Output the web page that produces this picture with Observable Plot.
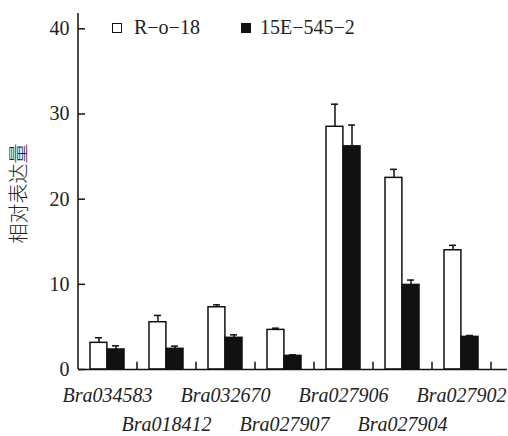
<!DOCTYPE html>
<html>
<head>
<meta charset="utf-8">
<script src="https://cdn.jsdelivr.net/npm/d3@7"></script>
<script src="https://cdn.jsdelivr.net/npm/@observablehq/plot@0.6"></script>
<style>
  html, body { margin: 0; padding: 0; background: #fff; }
  #wrap { position: relative; width: 508px; height: 436px; }
  .legend { position: absolute; top: 16px; font-family: "Liberation Serif", "Times New Roman", serif; font-size: 20px; color: #222; display: flex; align-items: center; white-space: nowrap; }
  .sw { display: inline-block; width: 8px; height: 8px; border: 1.3px solid #111; margin-right: 12px; }
</style>
</head>
<body>
<div id="wrap"></div>
<script>
const genes = ["Bra034583", "Bra018412", "Bra032670", "Bra027907", "Bra027906", "Bra027904", "Bra027902"];
const seriesNames = ["R\u2212o\u221218", "15E\u2212545\u22122"];
const r018 = [3.13, 5.55, 7.31, 4.65, 28.5, 22.5, 14.0];
const r018Err = [0.6, 0.8, 0.28, 0.2, 2.65, 1.0, 0.58];
const e545 = [2.35, 2.43, 3.72, 1.6, 26.2, 9.93, 3.83];
const e545Err = [0.43, 0.31, 0.35, 0.12, 2.5, 0.57, 0.16];
const yTicks = [0, 10, 20, 30, 40];
const yLabel = "相对表达量";

const white = genes.map((g, i) => ({gene: g, value: r018[i], err: r018Err[i]}));
const black = genes.map((g, i) => ({gene: g, value: e545[i], err: e545Err[i]}));
const row1 = genes.filter((g, i) => i % 2 === 0);
const row2 = genes.filter((g, i) => i % 2 === 1);

const ink = "#111";
const serif = "'Liberation Serif', 'Times New Roman', serif";
const chart = Plot.plot({
  width: 508,
  height: 436,
  marginLeft: 78,
  marginRight: 1,
  marginTop: 13,
  marginBottom: 67,
  style: {fontFamily: serif, fontSize: "20px", color: "#222", background: "#fff"},
  x: {domain: genes, range: [78, 491], paddingInner: 0.42, paddingOuter: 0.21, axis: null},
  y: {domain: [0, 41.8], axis: null},
  marks: [
    Plot.barY(white, {x: "gene", y: "value", fill: "#fff", stroke: ink, strokeWidth: 1.5, insetRight: 17.1}),
    Plot.barY(black, {x: "gene", y: "value", fill: ink, stroke: ink, strokeWidth: 1.5, insetLeft: 17.1}),
    Plot.ruleX(white, {x: "gene", y1: "value", y2: d => d.value + d.err, dx: -8.5, stroke: ink, strokeWidth: 1.5}),
    Plot.ruleX(black, {x: "gene", y1: "value", y2: d => d.value + d.err, dx: 8.5, stroke: ink, strokeWidth: 1.5}),
    Plot.tickY(white, {x: "gene", y: d => d.value + d.err, insetLeft: 5, insetRight: 22, stroke: ink, strokeWidth: 1.5}),
    Plot.tickY(black, {x: "gene", y: d => d.value + d.err, insetLeft: 22, insetRight: 5, stroke: ink, strokeWidth: 1.5}),
    Plot.ruleX(genes, {x: d => d, dx: 29.5, y1: 0, y2: 0.85, stroke: ink, strokeWidth: 1.5}),
    Plot.ruleX([genes[0]], {x: d => d, dx: -29.5, y1: 0, y2: 41.8, stroke: ink, strokeWidth: 1.5}),
    Plot.tickY(yTicks, {y: d => d, insetRight: 422, stroke: ink, strokeWidth: 1.5}),
    Plot.ruleY([0], {stroke: ink, strokeWidth: 1.5}),
    Plot.axisY({ticks: yTicks, tickSize: 0, tickPadding: 9, label: null, fontSize: 20, fill: "#222", fontFamily: serif}),
    Plot.text(row1, {x: d => d, frameAnchor: "bottom", lineAnchor: "middle", dy: 26, fontStyle: "italic", fontSize: 20, fill: "#222", fontFamily: serif}),
    Plot.text(row2, {x: d => d, frameAnchor: "bottom", lineAnchor: "middle", dy: 55, fontStyle: "italic", fontSize: 20, fill: "#222", fontFamily: serif}),
    Plot.text([yLabel], {frameAnchor: "left", textAnchor: "middle", rotate: -90, dx: -59, dy: 2, fontFamily: "'Noto Sans CJK SC', sans-serif", fontSize: 20, fontWeight: 300, fill: "#222"})
  ]
});
const wrap = document.getElementById("wrap");
wrap.appendChild(chart);

const leg1 = document.createElement("div");
leg1.className = "legend";
leg1.style.left = "112px";
leg1.innerHTML = `<span class="sw" style="background:#fff"></span>${seriesNames[0]}`;
const leg2 = document.createElement("div");
leg2.className = "legend";
leg2.style.left = "241px";
leg2.innerHTML = `<span class="sw" style="background:#111;margin-right:9px"></span>${seriesNames[1]}`;
wrap.appendChild(leg1);
wrap.appendChild(leg2);
</script>
</body>
</html>
